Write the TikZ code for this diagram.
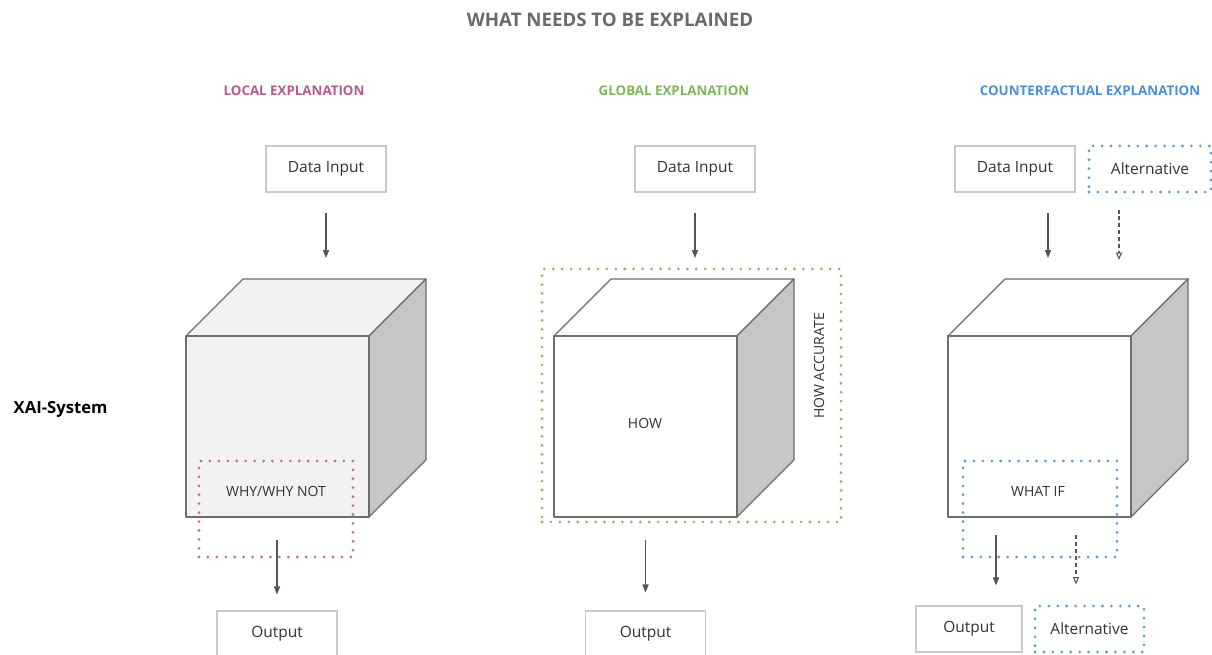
\documentclass[tikz,border=0pt]{standalone}
\usepackage{fontspec}
\setmainfont{Open Sans}
\usetikzlibrary{arrows.meta}
\definecolor{edgegray}{HTML}{6E6E6E}
\definecolor{boxgray}{HTML}{C8C8C8}
\definecolor{txtgray}{HTML}{333333}
\definecolor{titlegray}{HTML}{6A6A6A}
\definecolor{facelight}{HTML}{F2F2F2}
\definecolor{sidegray}{HTML}{C6C6C6}
\definecolor{localc}{HTML}{B55A8A}
\definecolor{globalc}{HTML}{7DB85A}
\definecolor{cfc}{HTML}{4A90D9}
\definecolor{localdot}{HTML}{C07099}
\definecolor{globaldot}{HTML}{86BE66}
\definecolor{cfdot}{HTML}{5A9CDE}
\definecolor{arrowgray}{HTML}{555555}

% draws a cube: #1 left x of front face, #2 front fill, #3 top fill, #4 side fill
\newcommand\drawcube[4]{%
  \filldraw[cubeedge, fill=#3] (#1,336) -- (#1+57,279) -- (#1+240,279) -- (#1+183,336) -- cycle;
  \filldraw[cubeedge, fill=#4] (#1+183,336) -- (#1+240,279) -- (#1+240,460) -- (#1+183,517) -- cycle;
  \filldraw[cubeedge, fill=#2] (#1,336) rectangle (#1+183,517);
}

\begin{document}
\begin{tikzpicture}[x=0.75pt,y=-0.75pt,
  cubeedge/.style={draw=edgegray, line width=1pt, line join=round},
  databox/.style={draw=boxgray, line width=0.8pt, minimum width=90pt, minimum height=34.5pt,
    text=txtgray, font=\fontsize{11.6}{13}\selectfont},
  dotbox/.style={draw=#1, line width=2.3pt, line cap=round, dash pattern=on 0pt off 6.7pt,
    inner sep=0pt},
  header/.style={font=\bfseries\fontsize{10}{12}\selectfont},
  inlabel/.style={text=txtgray, font=\fontsize{10.5}{12}\selectfont},
  arr/.style={draw=arrowgray, line width=0.9pt, -{Triangle[length=6pt,width=4.6pt]}},
  darr/.style={draw=arrowgray, line width=0.8pt, dash pattern=on 3pt off 2.2pt,
    -{Triangle[open,length=5.5pt,width=4.4pt]}},
]
\clip (0,0) rectangle (1212,654);
\fill[white] (0,0) rectangle (1212,654);

% titles
\node[font=\bfseries\fontsize{14}{16}\selectfont, text=titlegray] (title) at (610,20) {WHAT NEEDS TO BE EXPLAINED};
\node[header, text=localc] (hL) at (294,91) {LOCAL EXPLANATION};
\node[header, text=globalc] (hG) at (674,91) {GLOBAL EXPLANATION};
\node[header, text=cfc] (hC) at (1090,91) {COUNTERFACTUAL EXPLANATION};
\node[font=\bfseries\fontsize{12.5}{14}\selectfont, anchor=west] (xai) at (9,409) {XAI-System};

% ---------- local explanation ----------
\node[databox] (dinL) at (326,169) {Data Input};
\coordinate (topL) at (326,279);
\drawcube{186}{facelight}{facelight}{sidegray}
\coordinate (fbL) at (186,517);
\node[dotbox=localdot, minimum width=115.5pt, minimum height=72pt] (whyL) at (276,509) {};
\node[inlabel] (whyT) at (276,491) {WHY/WHY NOT};
\node[databox] (outL) at (277,634) {Output};
\draw[arr, shorten <=15pt, shorten >=15.75pt] (dinL) -- (dinL |- topL);
\draw[arr, shorten <=17.25pt, shorten >=12pt] (outL |- fbL) -- (outL);

% ---------- global explanation ----------
\node[databox] (dinG) at (695,169) {Data Input};
\coordinate (topG) at (695,279);
\node[dotbox=globaldot, minimum width=224.25pt, minimum height=189.75pt] (accG) at (691.5,395.5) {};
\drawcube{554}{white}{white}{sidegray}
\coordinate (fbG) at (554,517);
\node[inlabel] (howT) at (645,423) {HOW};
\node[inlabel, rotate=90] (accT) at (819,366) {HOW ACCURATE};
\node[databox] (outG) at (645.5,634) {Output};
\draw[arr, shorten <=15pt, shorten >=15.75pt] (dinG) -- (dinG |- topG);
\draw[arr, shorten <=17.25pt, shorten >=13.5pt] (outG |- fbG) -- (outG);

% ---------- counterfactual explanation ----------
\node[databox] (dinC) at (1015,169) {Data Input};
\node[databox, draw=none] (altC) at (1150,169) {Alternative};
\node[dotbox=cfdot, minimum width=91.5pt, minimum height=34.5pt] (altCbox) at (1150,169) {};
\coordinate (inA) at (1048,258);
\coordinate (inB) at (1119,260);
\drawcube{948}{white}{white}{sidegray}
\node[dotbox=cfdot, minimum width=115.5pt, minimum height=72pt] (ifC) at (1040,509) {};
\node[inlabel] (ifT) at (1038,491) {WHAT IF};
\coordinate (outA) at (996,535);
\coordinate (outB) at (1076,535);
\node[databox, minimum width=79.5pt] (outC) at (969,629) {Output};
\node[databox, draw=none, minimum width=81.75pt] (altO) at (1089.5,629) {Alternative};
\node[dotbox=cfdot, minimum width=81.75pt, minimum height=34.5pt] (altObox) at (1089.5,629) {};
\draw[arr, shorten <=15pt] (dinC.south -| inA) -- (inA);
\draw[darr, shorten <=12pt] (altCbox.south -| inB) -- (inB);
\draw[arr, shorten >=15pt] (outA) -- (outC.north -| outA);
\draw[darr, shorten >=15pt] (outB) -- (altObox.north -| outB);
\end{tikzpicture}
\end{document}
